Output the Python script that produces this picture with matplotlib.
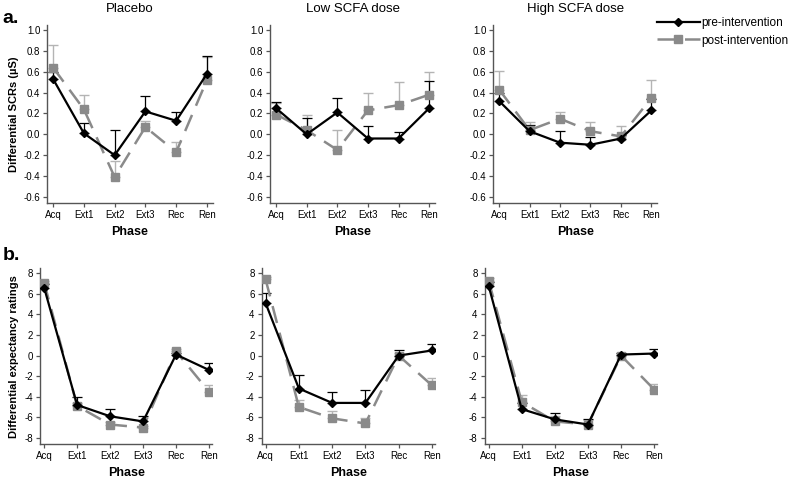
import numpy as np
from matplotlib import pyplot as plt

# x categories
phases = ['Acq', 'Ext1', 'Ext2', 'Ext3', 'Rec', 'Ren']
groups = ['Placebo', 'Low SCFA dose', 'High SCFA dose']

# a. differential SCRs (mean, upper SEM)
scr_pre = [[0.53, 0.01, -0.20, 0.22, 0.13, 0.58],
           [0.25, 0.00, 0.21, -0.04, -0.04, 0.25],
           [0.32, 0.03, -0.08, -0.10, -0.04, 0.23]]
scr_pre_err = [[0.07, 0.10, 0.24, 0.15, 0.08, 0.17],
               [0.06, 0.16, 0.14, 0.12, 0.06, 0.26],
               [0.08, 0.06, 0.11, 0.07, 0.03, 0.11]]
scr_post = [[0.64, 0.24, -0.41, 0.07, -0.17, 0.52],
            [0.19, 0.04, -0.15, 0.23, 0.28, 0.38],
            [0.43, 0.04, 0.15, 0.03, -0.02, 0.35]]
scr_post_err = [[0.22, 0.14, 0.15, 0.06, 0.10, 0.22],
                [0.11, 0.15, 0.19, 0.17, 0.22, 0.22],
                [0.18, 0.08, 0.06, 0.09, 0.10, 0.17]]

# b. differential expectancy ratings (mean, upper SEM)
exp_pre = [[6.6, -4.8, -5.9, -6.4, 0.1, -1.4],
           [5.1, -3.2, -4.6, -4.6, 0.0, 0.5],
           [6.8, -5.2, -6.2, -6.7, 0.1, 0.2]]
exp_pre_err = [[0.4, 0.8, 0.7, 0.5, 0.2, 0.7],
               [1.0, 1.3, 1.1, 1.3, 0.5, 0.6],
               [0.4, 0.6, 0.6, 0.5, 0.2, 0.4]]
exp_post = [[7.1, -4.9, -6.7, -7.0, 0.4, -3.5],
            [7.4, -5.0, -6.1, -6.6, 0.0, -2.9],
            [7.3, -4.5, -6.4, -6.7, 0.0, -3.3]]
exp_post_err = [[0.2, 0.3, 0.2, 0.2, 0.2, 0.6],
                [0.2, 0.7, 0.7, 0.5, 0.3, 0.7],
                [0.2, 0.7, 0.5, 0.4, 0.1, 0.5]]

plt.rcParams['font.family'] = ['Liberation Sans', 'DejaVu Sans']

GREY = '#8a8a8a'
GREY_ERR = '#b4b4b4'
SPINE = '#555555'

fig = plt.figure(figsize=(7.88, 4.78), dpi=100)

top_pos = [(0.060, 0.575, 0.210, 0.373),
           (0.343, 0.575, 0.209, 0.373),
           (0.626, 0.575, 0.208, 0.373)]
bot_pos = [(0.051, 0.071, 0.218, 0.368),
           (0.332, 0.071, 0.220, 0.368),
           (0.615, 0.071, 0.219, 0.368)]


def draw_panel(ax, pre, pre_err, post, post_err, ylim, yticks, fmt, xlim):
    x = np.arange(len(phases))
    zeros = np.zeros(len(phases))
    # error bars only upward
    ax.errorbar(x, post, yerr=[zeros, post_err], fmt='none', ecolor=GREY_ERR,
                elinewidth=1.0, capsize=3.5, capthick=1.0, zorder=1)
    ax.errorbar(x, pre, yerr=[zeros, pre_err], fmt='none', ecolor='black',
                elinewidth=0.9, capsize=3.5, capthick=0.9, zorder=2)
    ax.plot(x, post, color=GREY, lw=1.8, dashes=(7, 4), marker='s', ms=6,
            mfc=GREY, mec=GREY, zorder=3, label='post-intervention')
    ax.plot(x, pre, color='black', lw=1.6, marker='D', ms=4.5,
            mfc='black', mec='black', zorder=4, label='pre-intervention')
    ax.set_xlim(*xlim)
    ax.set_ylim(*ylim)
    ax.set_xticks(x)
    ax.set_xticklabels(phases)
    ax.set_yticks(yticks)
    ax.set_yticklabels([fmt.format(v) for v in yticks])
    ax.set_xlabel('Phase', fontsize=9, fontweight='bold', labelpad=4)
    for side in ['top', 'right']:
        ax.spines[side].set_visible(False)
    for side in ['left', 'bottom']:
        ax.spines[side].set_color(SPINE)
        ax.spines[side].set_linewidth(1.0)
    ax.tick_params(direction='out', length=3, width=0.9, color=SPINE,
                   labelsize=7, pad=2)


top_axes = []
for i in range(3):
    ax = fig.add_axes(top_pos[i])
    draw_panel(ax, scr_pre[i], scr_pre_err[i], scr_post[i], scr_post_err[i],
               (-0.66, 1.05), np.round(np.arange(-0.6, 1.01, 0.2), 1), '{:.1f}',
               (-0.19, 5.19))
    ax.set_title(groups[i], fontsize=9.5, pad=9)
    top_axes.append(ax)
top_axes[0].set_ylabel('Differential SCRs (\u00b5S)', fontsize=8, fontweight='bold', labelpad=3)

bot_axes = []
for i in range(3):
    ax = fig.add_axes(bot_pos[i])
    draw_panel(ax, exp_pre[i], exp_pre_err[i], exp_post[i], exp_post_err[i],
               (-8.6, 8.5), np.arange(-8, 9, 2), '{:d}', (-0.12, 5.09))
    bot_axes.append(ax)
bot_axes[0].set_ylabel('Differential expectancy ratings', fontsize=8, fontweight='bold', labelpad=4)

fig.text(0.003, 0.962, 'a.', fontsize=14, fontweight='bold', va='center')
fig.text(0.003, 0.465, 'b.', fontsize=14, fontweight='bold', va='center')

handles, labels = top_axes[2].get_legend_handles_labels()
fig.legend(handles[::-1], labels[::-1], loc='upper left', bbox_to_anchor=(0.828, 0.975),
           frameon=False, fontsize=8.5, handlelength=3.6, handletextpad=0.1,
           labelspacing=0.5, borderaxespad=0)

fig.savefig('out.png', dpi=100)
